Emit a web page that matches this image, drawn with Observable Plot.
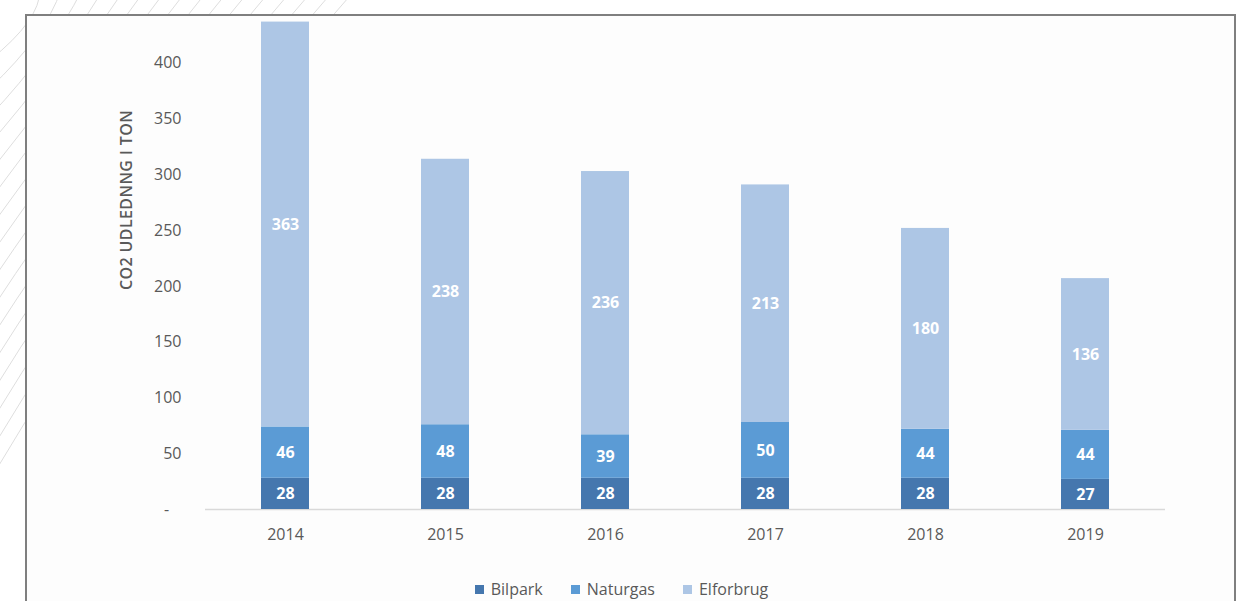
<!DOCTYPE html>
<html>
<head>
<meta charset="utf-8">
<script src="https://cdn.jsdelivr.net/npm/d3@7"></script>
<script src="https://cdn.jsdelivr.net/npm/@observablehq/plot@0.6"></script>
<style>
  html, body { margin: 0; padding: 0; }
  body { width: 1243px; height: 601px; overflow: hidden; background: #ffffff; position: relative; font-family: "Open Sans", sans-serif; }
  #deco { position: absolute; left: 0; top: 0; }
  #box { position: absolute; left: 25px; top: 14px; width: 1207px; height: 600px; border: 2px solid #7f7f7f; border-bottom: none; background: #fdfdfd; }
  #chart { position: absolute; left: 26px; top: 16px; }
  #ylabel { position: absolute; left: 126px; top: 200px; transform: translate(-50%, -50%) rotate(-90deg); white-space: nowrap; font-size: 16px; color: #595959; font-weight: 600; letter-spacing: 0.4px; }
  #legend { position: absolute; left: 0; width: 1243px; top: 578px; text-align: center; font-size: 16px; color: #595959; }
  #legend span.item { margin: 0 14px; }
  #legend span.sw { display: inline-block; width: 9px; height: 9px; margin-right: 7px; vertical-align: 1px; }
</style>
</head>
<body>
<svg id="deco" width="1243" height="601"></svg>
<div id="box"></div>
<div id="chart"></div>
<div id="ylabel">CO2 UDLEDNNG I TON</div>
<div id="legend"></div>
<script>
const years = ["2014", "2015", "2016", "2017", "2018", "2019"];
const series = ["Bilpark", "Naturgas", "Elforbrug"];
const bilpark = [28, 28, 28, 28, 28, 27];
const naturgas = [46, 48, 39, 50, 44, 44];
const elforbrug = [363, 238, 236, 213, 180, 136];
const colors = ["#4577ae", "#5b9bd5", "#adc6e5"];
const yTicks = [0, 50, 100, 150, 200, 250, 300, 350, 400];

// decorative background lines (top-left)
const deco = d3.select("#deco");
for (let i = 0; i < 16; i++) {
  const s = i * 28;
  deco.append("path")
    .attr("d", `M ${-10} ${60 + s} Q ${40 + s * 0.2} ${20 + s * 0.55} ${40 + s * 0.75} ${-10}`)
    .attr("fill", "none").attr("stroke", "#dedede").attr("stroke-width", 1);
}

const valuesBySeries = [bilpark, naturgas, elforbrug];
const data = [];
years.forEach((yr, i) => {
  series.forEach((s, j) => data.push({ year: yr, series: s, value: valuesBySeries[j][i] }));
});

const W = 1208, H = 560;
const chart = Plot.plot({
  width: W,
  height: H,
  marginLeft: 179,
  marginRight: 69,
  marginTop: 0,
  marginBottom: 67,
  style: { fontFamily: "Open Sans, sans-serif", fontSize: "16px", color: "#595959", background: "transparent", overflow: "hidden" },
  x: { type: "band", domain: years, paddingInner: 0.7, paddingOuter: 0.35, label: null },
  y: { domain: [0, 442], label: null },
  color: { domain: series, range: colors },
  marks: [
    Plot.axisY({ ticks: yTicks, tickSize: 0, tickPadding: 24, label: null,
      tickFormat: d => d === 0 ? "-\u00A0\u00A0\u00A0" : String(d), fill: "#595959", fontSize: 16 }),
    Plot.axisX({ tickSize: 0, tickPadding: 19, label: null, fill: "#595959", fontSize: 16 }),
    Plot.ruleY([0], { stroke: "#d9d9d9", strokeWidth: 1.5 }),
    Plot.barY(data, { x: "year", y: "value", fill: "series", order: series }),
    Plot.text(data, Plot.stackY({ x: "year", y: "value", z: "series", order: series, text: d => String(d.value),
      fill: "white", fontWeight: "bold", fontSize: 16 }))
  ]
});
document.getElementById("chart").appendChild(chart);

const legend = d3.select("#legend");
series.forEach((s, j) => {
  const it = legend.append("span").attr("class", "item");
  it.append("span").attr("class", "sw").style("background", colors[j]);
  it.append("span").text(s);
});
</script>
</body>
</html>
